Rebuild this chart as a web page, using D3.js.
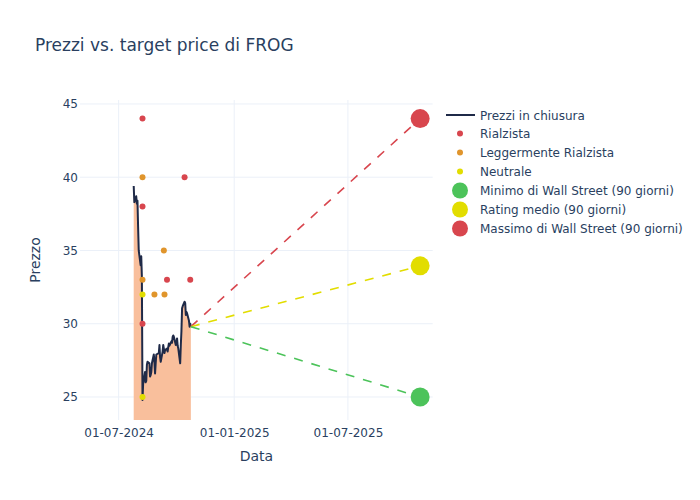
<!DOCTYPE html>
<html><head><meta charset="utf-8">
<script src="https://cdn.jsdelivr.net/npm/d3@7"></script>
<style>body{margin:0;background:#fff;} text{font-family:"DejaVu Sans",verdana,arial,sans-serif;}</style>
</head><body><svg id="c" width="700" height="500"></svg>
<script>
const title = "Prezzi vs. target price di FROG";
const priceDates = ["2024-07-25","2024-07-26","2024-07-29","2024-07-30","2024-07-31","2024-08-01","2024-08-02","2024-08-05","2024-08-06","2024-08-07","2024-08-08","2024-08-09","2024-08-12","2024-08-13","2024-08-14","2024-08-15","2024-08-16","2024-08-19","2024-08-20","2024-08-21","2024-08-22","2024-08-23","2024-08-26","2024-08-27","2024-08-28","2024-08-29","2024-08-30","2024-09-03","2024-09-04","2024-09-05","2024-09-06","2024-09-09","2024-09-10","2024-09-11","2024-09-12","2024-09-13","2024-09-16","2024-09-17","2024-09-18","2024-09-19","2024-09-20","2024-09-23","2024-09-24","2024-09-25","2024-09-26","2024-09-27","2024-09-30","2024-10-01","2024-10-02","2024-10-03","2024-10-04","2024-10-07","2024-10-08","2024-10-09","2024-10-10","2024-10-11","2024-10-14","2024-10-15","2024-10-16","2024-10-17","2024-10-18","2024-10-21","2024-10-22","2024-10-23","2024-10-24"];
const priceValues = [39.4,38.3,38.7,38.2,38.4,36.6,35.0,34.0,34.6,33.2,24.8,25.9,26.7,26.0,26.1,27.2,27.4,27.3,26.4,26.5,26.7,27.3,27.9,27.4,26.6,27.3,27.9,28.0,28.55,27.7,27.4,28.1,28.55,28.3,28.0,28.2,28.3,28.1,28.4,28.65,28.5,28.8,28.7,29.1,29.2,29.1,28.55,28.7,29.0,28.5,28.3,27.3,28.55,29.5,31.05,31.2,31.5,31.4,30.6,30.8,30.7,30.2,29.8,30.0,29.8];
const bullDates = ["2024-08-08","2024-08-08","2024-08-08","2024-09-16","2024-10-14","2024-10-23"];
const bullValues = [44,38,30,33,40,33];
const slightDates = ["2024-08-08","2024-08-08","2024-08-27","2024-09-11","2024-09-12"];
const slightValues = [40,33,32,35,32];
const neutralDates = ["2024-08-08","2024-08-08"];
const neutralValues = [32,25];
const targetDate = "2025-10-24";
const targetMin = 25, targetAvg = 33.95, targetMax = 44;
const xTicks = ["2024-07-01","2025-01-01","2025-07-01"];
const xTickLabels = ["01-07-2024","01-01-2025","01-07-2025"];
const yTicks = [25,30,35,40,45];
const legendLabels = ["Prezzi in chiusura","Rialzista","Leggermente Rialzista","Neutrale","Minimo di Wall Street (90 giorni)","Rating medio (90 giorni)","Massimo di Wall Street (90 giorni)"];

const FONT = '"DejaVu Sans",verdana,arial,sans-serif';
const C = {line:"#1f2a48", fill:"#f9bf9c", red:"#d8464e", orange:"#e0952c", yellow:"#e2dd00", green:"#4cc35a", grid:"#ebf0f8", text:"#2a3f5f"};
const P = d3.timeParse("%Y-%m-%d");
const pd = s => P(s);
const svg = d3.select("#c");
const L=80, R=432.7, T=100, B=420;
const x = d3.scaleTime().domain([new Date(2024,3,30,12), new Date(2025,10,13)]).range([L,R]);
const y = d3.scaleLinear().domain([23.43,45.27]).range([B,T]);

// grid
const g = svg.append("g");
g.selectAll(".gx").data(xTicks).join("line").attr("x1",d=>x(pd(d))).attr("x2",d=>x(pd(d))).attr("y1",T).attr("y2",B).attr("stroke",C.grid).attr("stroke-width",1);
g.selectAll(".gy").data(yTicks).join("line").attr("x1",L).attr("x2",R).attr("y1",d=>y(d)).attr("y2",d=>y(d)).attr("stroke",C.grid).attr("stroke-width",1);

// axes (labels only)
const xa = d3.axisBottom(x).tickValues(xTicks.map(pd)).tickFormat((d,i)=>xTickLabels[i]).tickSize(0).tickPadding(8);
const xg = svg.append("g").attr("transform",`translate(0,${B})`).call(xa);
const ya = d3.axisLeft(y).tickValues(yTicks).tickSize(0).tickPadding(2);
const yg = svg.append("g").attr("transform",`translate(${L},0)`).call(ya);
[xg,yg].forEach(a=>{a.select(".domain").remove(); a.selectAll("text").attr("fill",C.text).style("font-size","12px").style("font-family",FONT);});

const pts = priceDates.map((d,i)=>({d:pd(d),v:priceValues[i]}));
svg.append("defs").append("clipPath").attr("id","pc").append("rect").attr("x",L).attr("y",T).attr("width",R-L).attr("height",B-T);
const plot = svg.append("g").attr("clip-path","url(#pc)");
plot.append("path").datum(pts).attr("d",d3.area().x(p=>x(p.d)).y0(B).y1(p=>y(p.v))).attr("fill",C.fill);
plot.append("path").datum(pts).attr("d",d3.line().x(p=>x(p.d)).y(p=>y(p.v))).attr("fill","none").attr("stroke",C.line).attr("stroke-width",2).attr("stroke-linejoin","round");

// projections
const last = pts[pts.length-1];
const tD = pd(targetDate);
[[targetMax,C.red],[targetAvg,C.yellow],[targetMin,C.green]].forEach(([v,c])=>{
  plot.append("line").attr("x1",x(last.d)).attr("y1",y(last.v)).attr("x2",x(tD)).attr("y2",y(v)).attr("stroke",c).attr("stroke-width",1.6).attr("stroke-dasharray","9,9");
});
function dots(ds,vs,c){ plot.append("g").selectAll("circle").data(ds.map((d,i)=>({d:pd(d),v:vs[i]}))).join("circle").attr("cx",p=>x(p.d)).attr("cy",p=>y(p.v)).attr("r",3).attr("fill",c); }
dots(bullDates,bullValues,C.red);
dots(slightDates,slightValues,C.orange);
dots(neutralDates,neutralValues,C.yellow);
[[targetMin,C.green],[targetAvg,C.yellow],[targetMax,C.red]].forEach(([v,c])=>{
  svg.append("circle").attr("cx",x(tD)).attr("cy",y(v)).attr("r",9.5).attr("fill",c);
});

// title & axis titles
svg.append("text").attr("x",35).attr("y",51).text(title).attr("fill",C.text).style("font-size","17px");
svg.append("text").attr("x",(L+R)/2).attr("y",461).attr("text-anchor","middle").text("Data").attr("fill",C.text).style("font-size","14px");
svg.append("text").attr("transform","translate(40,260) rotate(-90)").attr("text-anchor","middle").text("Prezzo").attr("fill",C.text).style("font-size","14px");

// legend
const lg = svg.append("g");
const rowsY = [115,133.5,152.5,171.5,190.5,209.5,228.5];
legendLabels.forEach((lab,i)=>{
  const yy = rowsY[i];
  if(i===0) lg.append("line").attr("x1",446).attr("x2",475).attr("y1",yy).attr("y2",yy).attr("stroke",C.line).attr("stroke-width",2);
  else {
    const col = [null,C.red,C.orange,C.yellow,C.green,C.yellow,C.red][i];
    lg.append("circle").attr("cx",460).attr("cy",yy).attr("r",i<4?3:8).attr("fill",col);
  }
  lg.append("text").attr("x",480).attr("y",yy+4.5).text(lab).attr("fill",C.text).style("font-size","12px");
});
</script></body></html>
